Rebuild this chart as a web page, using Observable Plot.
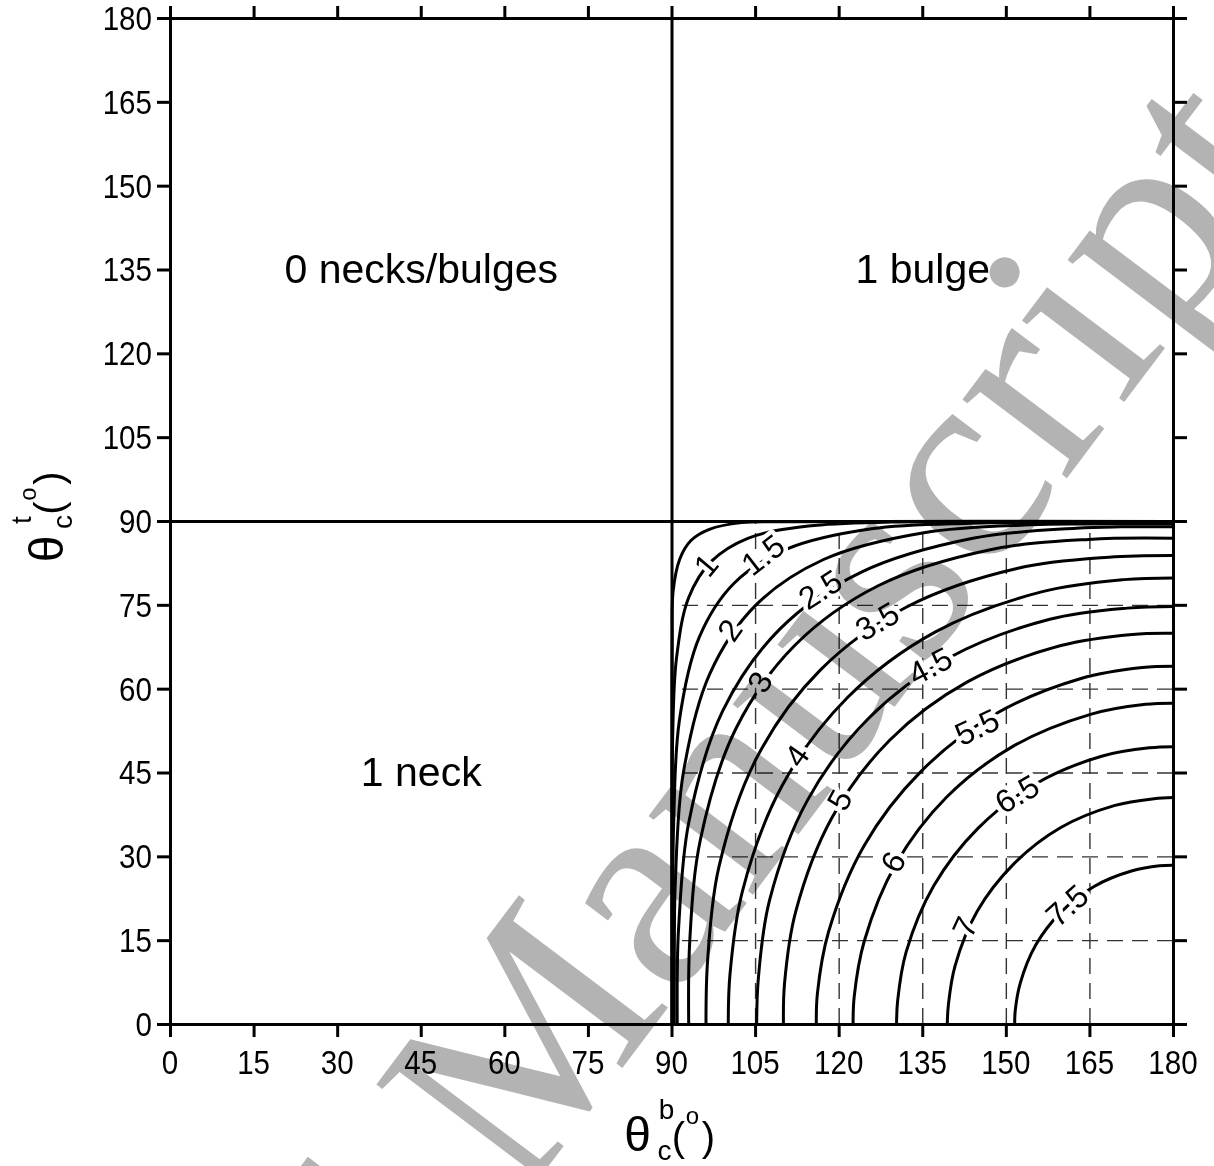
<!DOCTYPE html>
<html>
<head>
<meta charset="utf-8">
<script src="https://cdn.jsdelivr.net/npm/d3@7"></script>
<script src="https://cdn.jsdelivr.net/npm/@observablehq/plot@0.6"></script>
<style>
  html, body { margin: 0; padding: 0; background: #fff; }
  #chart svg { display: block; }
</style>
</head>
<body>
<div id="chart"></div>
<script>
// Axis ticks (degrees)
const xTicks = [0, 15, 30, 45, 60, 75, 90, 105, 120, 135, 150, 165, 180];
const yTicks = [0, 15, 30, 45, 60, 75, 90, 105, 120, 135, 150, 165, 180];

// Dashed guide lines inside the lower-right quadrant
const guideX = [105, 120, 135, 150, 165];
const guideY = [15, 30, 45, 60, 75];

// Contour lines: [θb, θt] points, one array per level
const c05 = [[90,0],[90,62],[90.03,68.7],[90.2,77.5],[91.4,83.3],[93.4,86.6],[96.7,88.6],[102.5,89.8],[111.3,89.97],[180,90]];
const c10 = [[90.03,0],[90.03,40.9],[90.1,50.7],[90.8,65.5],[93,76.4],[97.1,82.9],[103.6,87],[114.5,89.2],[129.3,89.9],[139.1,89.97],[180,89.97]];
const c15 = [[90.15,0],[90.16,25.6],[90.3,36.1],[91.3,54.2],[94.9,69.3],[101.1,78.9],[110.7,85.1],[125.8,88.7],[143.9,89.7],[154.4,89.84],[180,89.85]];
const c20 = [[90.4,0],[90.43,16],[90.6,25.6],[92,44.8],[96.8,62.8],[105,75],[117.2,83.2],[135.2,88],[154.4,89.4],[164,89.57],[180,89.6]];
const c25 = [[90.94,0],[90.95,9.5],[91.2,17.5],[93,36.1],[99.1,56.1],[109.3,70.7],[123.9,80.9],[144,87],[162.5,88.8],[170.5,89.05],[180,89.06]];
const c30 = [[93,0],[93.2,15.2],[95.1,33.1],[101.5,53],[112.1,67.9],[127,78.5],[146.9,84.9],[164.8,86.8],[180,87]];
const c35 = [[96.1,0],[96.4,11.6],[98.4,28.1],[105.3,47.9],[116.6,63.4],[132.1,74.7],[151.9,81.6],[168.4,83.6],[180,83.9]];
const c40 = [[100.1,0],[100.4,8.9],[102.6,23.7],[109.8,42.8],[121.5,58.5],[137.2,70.2],[156.3,77.4],[171.1,79.6],[180,79.9]];
const c45 = [[105.2,0],[105.5,8.3],[107.5,22.2],[114.3,40.1],[125.25,54.75],[139.9,65.7],[157.8,72.5],[171.7,74.5],[180,74.8]];
const c50 = [[110,0],[110.2,7.4],[112.2,20.2],[118.7,37],[129.1,50.9],[143,61.3],[159.8,67.8],[172.6,69.8],[180,70]];
const c55 = [[115.9,0],[116.1,5.6],[118.1,16.6],[124.5,32.05],[134.7,45.3],[147.95,55.5],[163.4,61.9],[174.4,63.86],[180,64.1]];
const c60 = [[122.5,0],[122.7,5],[124.5,14.9],[130.2,28.75],[139.3,40.7],[151.25,49.8],[165.1,55.5],[175,57.3],[180,57.5]];
const c65 = [[130.3,0],[130.5,4.3],[132,12.9],[137,24.85],[144.9,35.1],[155.15,43],[167.1,48],[175.7,49.5],[180,49.7]];
const c70 = [[139.4,0],[139.6,3.5],[140.8,10.5],[144.8,20.3],[151.3,28.7],[159.7,35.2],[169.5,39.2],[176.5,40.4],[180,40.6]];
const c75 = [[151.5,0],[151.6,2.5],[152.5,7.4],[155.3,14.25],[159.85,20.15],[165.75,24.7],[172.6,27.5],[177.5,28.4],[180,28.5]];

const contourLevels = [0.5, 1, 1.5, 2, 2.5, 3, 3.5, 4, 4.5, 5, 5.5, 6, 6.5, 7, 7.5];
const contourPoints = [c05, c10, c15, c20, c25, c30, c35, c40, c45, c50, c55, c60, c65, c70, c75];

// Inline contour labels
const labelText  = ["1", "1.5", "2", "2.5", "3", "3.5", "4", "4.5", "5", "5.5", "6", "6.5", "7", "7.5"];
const labelX     = [96.2, 106.4, 100.5, 116.7, 105.9, 126.9, 112.5, 136.4, 120.2, 144.8, 129.8, 152.0, 142.7, 161.0];
const labelY     = [82.1, 83.9, 70.5, 77.7, 61.2, 72.0, 48.0, 64.0, 40.1, 53.1, 29.0, 41.1, 17.4, 21.2];
const labelAngle = [-50, -38, -55, -33, -60, -30, -55, -28, -62, -25, -62, -30, -65, -42];

// Regime names
const regionText = ["0 necks/bulges", "1 bulge", "1 neck"];
const regionX = [45, 135, 45];
const regionY = [135, 135, 45];

// Watermark text and where its last letter ends
const stampText = ["Accepted Manuscript"];
const stampX = [203.0];
const stampY = [153.5];

// ---- tables built from the arrays above ----
const contourRows = contourLevels.flatMap((lv, i) =>
  contourPoints[i].map(([x, y]) => ({level: lv, x, y})));
const labelRows = labelText.map((t, i) => ({t, x: labelX[i], y: labelY[i], a: labelAngle[i]}));
const regionRows = regionText.map((t, i) => ({t, x: regionX[i], y: regionY[i]}));
const stampRows = stampText.map((t, i) => ({t, x: stampX[i], y: stampY[i]}));

const SANS = "'Liberation Sans', Arial, Helvetica, sans-serif";

// Tick numbers in a narrow face (horizontally condensed sans), placed with the plot's scales
function tickLabels(index, scales, values, dims) {
  const g = d3.create("svg:g").attr("font-family", SANS).attr("font-size", 34).attr("fill", "black");
  const bottom = dims.height - dims.marginBottom;
  for (const v of xTicks) {
    g.append("text")
      .attr("transform", `translate(${scales.x(v)},${bottom + 26}) scale(0.87,1)`)
      .attr("text-anchor", "middle").attr("dy", "0.71em").text(v);
  }
  for (const v of yTicks) {
    g.append("text")
      .attr("transform", `translate(${dims.marginLeft - 18},${scales.y(v)}) scale(0.87,1)`)
      .attr("text-anchor", "end").attr("dy", "0.35em").text(v);
  }
  return g.node();
}

// Axis titles with sub/superscripts: θ_c^b(°) and θ_c^t(°)
function axisTitle(g, sup, shift) {
  const t = g.append("text").attr("fill", "black").attr("font-family", SANS);
  const part = (s, x, y, size) => t.append("tspan").attr("x", x + shift).attr("y", y).attr("font-size", size).text(s);
  part("\u03b8", -42, 0, 48);
  part("c", -15, 9, 28);
  part(sup, -13, -32, 28);
  part("(", -1, 0, 40);
  part("o", 13, -27, 24);
  part(")", 29, 0, 40);
}
function titles(index, scales, values, dims) {
  const g = d3.create("svg:g");
  const cx = scales.x(90);
  const cy = scales.y(90);
  axisTitle(g.append("g").attr("transform", `translate(${cx},${dims.height - 15})`), "b", 8);
  axisTitle(g.append("g").attr("transform", `translate(63,${cy}) rotate(-90)`), "t", 14);
  return g.node();
}

const chart = Plot.plot({
  width: 1214,
  height: 1166,
  marginLeft: 170,
  marginRight: 41,
  marginTop: 18,
  marginBottom: 142,
  x: {domain: [0, 180], label: null},
  y: {domain: [0, 180], label: null},
  style: {fontFamily: SANS, background: "white", color: "black"},
  marks: [
    // dashed guides
    Plot.ruleX(guideX, {y1: 0, y2: 90, stroke: "#333", strokeWidth: 1.4, strokeDasharray: "16,9"}),
    Plot.ruleY(guideY, {x1: 180, x2: 90, stroke: "#333", strokeWidth: 1.4, strokeDasharray: "16,9"}),
    // contour lines
    Plot.line(contourRows, {x: "x", y: "y", z: "level", curve: "catmull-rom", stroke: "black", strokeWidth: 3}),
    // contour labels with a white gap around them
    Plot.text(labelRows, {x: "x", y: "y", text: "t", rotate: "a", fontSize: 32, fill: "black",
      stroke: "white", strokeWidth: 9}),
    // quadrant boundaries
    Plot.ruleX([90], {stroke: "black", strokeWidth: 3}),
    Plot.ruleY([90], {stroke: "black", strokeWidth: 3}),
    Plot.frame({stroke: "black", strokeWidth: 3}),
    // regime names
    Plot.text(regionRows, {x: "x", y: "y", text: "t", fontSize: 41, fill: "black"}),
    // tick marks on all four sides
    Plot.axisX(xTicks, {anchor: "bottom", tickSize: 13, tickFormat: () => "", strokeWidth: 3, label: null}),
    Plot.axisX(xTicks, {anchor: "top", tickSize: 13, tickFormat: () => "", strokeWidth: 3, label: null}),
    Plot.axisY(yTicks, {anchor: "left", tickSize: 13, tickFormat: () => "", strokeWidth: 3, label: null}),
    Plot.axisY(yTicks, {anchor: "right", tickSize: 13, tickFormat: () => "", strokeWidth: 3, label: null}),
    tickLabels,
    // watermark
    Plot.text(stampRows, {x: "x", y: "y", text: "t", rotate: -53, fontSize: 285, textAnchor: "end", lineAnchor: "bottom",
      fontFamily: "'Liberation Serif', 'Times New Roman', serif", fill: "#b3b3b3", mixBlendMode: "multiply"}),
    titles
  ]
});

document.getElementById("chart").appendChild(chart);
</script>
</body>
</html>
